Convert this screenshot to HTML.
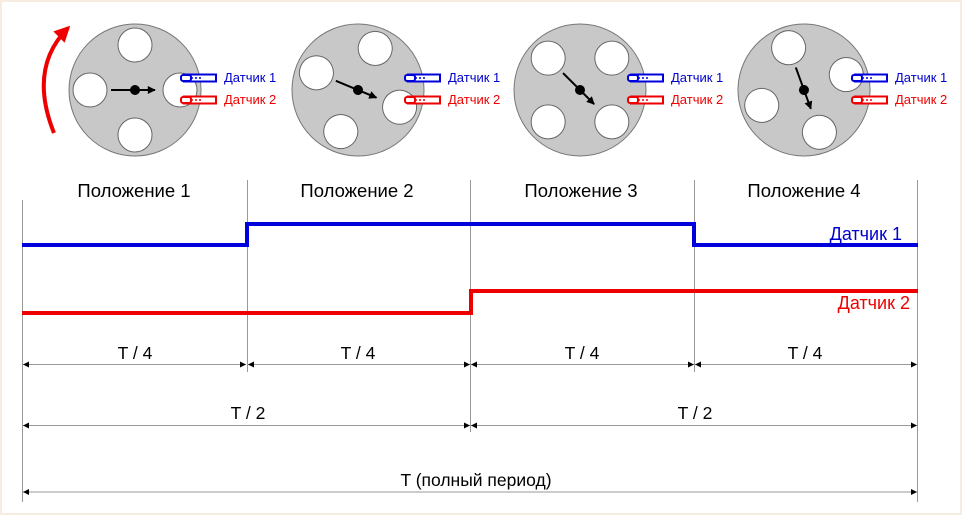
<!DOCTYPE html>
<html><head><meta charset="utf-8"><style>
html,body{margin:0;padding:0;background:#fff}
svg{display:block}
text{font-family:"Liberation Sans",sans-serif}
</style></head><body>
<svg width="962" height="515" viewBox="0 0 962 515" xmlns="http://www.w3.org/2000/svg">
<defs>
<marker id="ah" viewBox="0 0 10 10" refX="10" refY="5" markerWidth="8" markerHeight="6" orient="auto-start-reverse" markerUnits="userSpaceOnUse"><path d="M0,0L10,5L0,10z" fill="#000"/></marker>
<marker id="ak" viewBox="0 0 10 10" refX="9" refY="5" markerWidth="10" markerHeight="8" orient="auto" markerUnits="userSpaceOnUse"><path d="M0,0L10,5L0,10z" fill="#000"/></marker>
<marker id="ar" viewBox="0 0 10 10" refX="8" refY="5" markerWidth="18" markerHeight="16" orient="auto" markerUnits="userSpaceOnUse"><path d="M0,0L10,5L0,10z" fill="#e00"/></marker>
<g id="sens">
<rect x="184" y="-3.5" width="32" height="7" fill="#fff" stroke-width="2"/>
<rect x="181" y="-3" width="10" height="6" rx="2" stroke-width="2" fill="#fff"/>
<line x1="191" y1="0" x2="201" y2="0" stroke-dasharray="2,2" stroke-width="1.5"/>
</g>
</defs>
<rect x="0.5" y="0.5" width="961" height="514" fill="#fff" stroke="#f6ece0" stroke-width="3"/>
<path d="M54,133 Q28,68 68,28" fill="none" stroke="#e00" stroke-width="4" marker-end="url(#ar)"/>
<g transform="translate(135,90)">
<circle r="66" fill="#c8c8c8" stroke="#777" stroke-width="1"/>
<g fill="#fff" stroke="#666" stroke-width="1">
<circle cx="45" cy="0" r="17"/><circle cx="0" cy="45" r="17"/><circle cx="-45" cy="0" r="17"/><circle cx="0" cy="-45" r="17"/></g>
<line x1="-24" y1="0" x2="20" y2="0" stroke="#000" stroke-width="2" marker-end="url(#ak)"/><circle r="5" fill="#000"/>
</g>
<g transform="translate(358,90) rotate(22.5)">
<circle r="66" fill="#c8c8c8" stroke="#777" stroke-width="1"/>
<g fill="#fff" stroke="#666" stroke-width="1">
<circle cx="45" cy="0" r="17"/><circle cx="0" cy="45" r="17"/><circle cx="-45" cy="0" r="17"/><circle cx="0" cy="-45" r="17"/></g>
<line x1="-24" y1="0" x2="20" y2="0" stroke="#000" stroke-width="2" marker-end="url(#ak)"/><circle r="5" fill="#000"/>
</g>
<g transform="translate(580,90) rotate(45)">
<circle r="66" fill="#c8c8c8" stroke="#777" stroke-width="1"/>
<g fill="#fff" stroke="#666" stroke-width="1">
<circle cx="45" cy="0" r="17"/><circle cx="0" cy="45" r="17"/><circle cx="-45" cy="0" r="17"/><circle cx="0" cy="-45" r="17"/></g>
<line x1="-24" y1="0" x2="20" y2="0" stroke="#000" stroke-width="2" marker-end="url(#ak)"/><circle r="5" fill="#000"/>
</g>
<g transform="translate(804,90) rotate(70)">
<circle r="66" fill="#c8c8c8" stroke="#777" stroke-width="1"/>
<g fill="#fff" stroke="#666" stroke-width="1">
<circle cx="45" cy="0" r="17"/><circle cx="0" cy="45" r="17"/><circle cx="-45" cy="0" r="17"/><circle cx="0" cy="-45" r="17"/></g>
<line x1="-24" y1="0" x2="20" y2="0" stroke="#000" stroke-width="2" marker-end="url(#ak)"/><circle r="5" fill="#000"/>
</g>
<g font-size="13">
<g transform="translate(0,78)" stroke="#00d"><use href="#sens"/></g><text x="224" y="82" fill="#00c">Датчик 1</text>
<g transform="translate(0,100)" stroke="#e00"><use href="#sens"/></g><text x="224" y="104" fill="#e00">Датчик 2</text>
<g transform="translate(224,78)" stroke="#00d"><use href="#sens"/></g><text x="448" y="82" fill="#00c">Датчик 1</text>
<g transform="translate(224,100)" stroke="#e00"><use href="#sens"/></g><text x="448" y="104" fill="#e00">Датчик 2</text>
<g transform="translate(447,78)" stroke="#00d"><use href="#sens"/></g><text x="671" y="82" fill="#00c">Датчик 1</text>
<g transform="translate(447,100)" stroke="#e00"><use href="#sens"/></g><text x="671" y="104" fill="#e00">Датчик 2</text>
<g transform="translate(671,78)" stroke="#00d"><use href="#sens"/></g><text x="895" y="82" fill="#00c">Датчик 1</text>
<g transform="translate(671,100)" stroke="#e00"><use href="#sens"/></g><text x="895" y="104" fill="#e00">Датчик 2</text>
</g>
<g stroke="#999" stroke-width="1">
<line x1="22.5" y1="200" x2="22.5" y2="502"/>
<line x1="247.5" y1="180" x2="247.5" y2="372"/>
<line x1="470.5" y1="180" x2="470.5" y2="432"/>
<line x1="694.5" y1="180" x2="694.5" y2="372"/>
<line x1="917.5" y1="180" x2="917.5" y2="502"/>
</g>
<g font-size="18.5" fill="#000" text-anchor="middle">
<text x="134" y="197">Положение 1</text>
<text x="357" y="197">Положение 2</text>
<text x="581" y="197">Положение 3</text>
<text x="804" y="197">Положение 4</text>
</g>
<polyline points="22,245 247,245 247,224 694,224 694,245 918,245" fill="none" stroke="#00d" stroke-width="4"/>
<polyline points="22,313 471,313 471,291 918,291" fill="none" stroke="#e00" stroke-width="4"/>
<text x="902" y="240" font-size="18" fill="#00c" text-anchor="end">Датчик 1</text>
<text x="910" y="309" font-size="18" fill="#e00" text-anchor="end">Датчик 2</text>
<g stroke="#999" stroke-width="1" marker-start="url(#ah)" marker-end="url(#ah)">
<line x1="23" y1="364.5" x2="246" y2="364.5"/>
<line x1="248" y1="364.5" x2="470" y2="364.5"/>
<line x1="471" y1="364.5" x2="694" y2="364.5"/>
<line x1="695" y1="364.5" x2="917" y2="364.5"/>
<line x1="23" y1="425.5" x2="470" y2="425.5"/>
<line x1="471" y1="425.5" x2="917" y2="425.5"/>
<line x1="23" y1="492" x2="917" y2="492"/>
</g>
<g font-size="17.5" fill="#000" text-anchor="middle">
<text x="135" y="359">T / 4</text>
<text x="358" y="359">T / 4</text>
<text x="582" y="359">T / 4</text>
<text x="805" y="359">T / 4</text>
<text x="248" y="419">T / 2</text>
<text x="695" y="419">T / 2</text>
<text x="476" y="486">T (полный период)</text>
</g>
</svg>
</body></html>
